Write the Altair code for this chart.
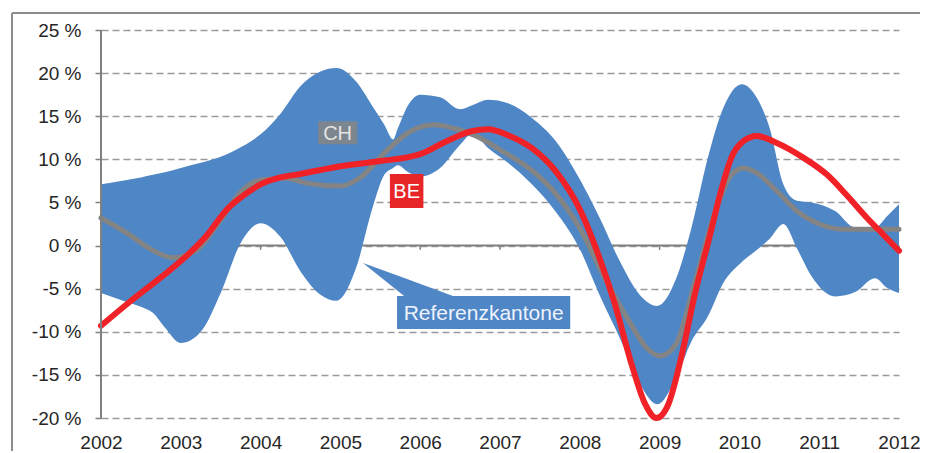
import altair as alt
import pandas as pd

FONT = "Liberation Sans"

# ---- data ----
band_year = [2002.0, 2002.25, 2002.5, 2002.65, 2002.8, 2003.0, 2003.25, 2003.5, 2003.75, 2004.0,
             2004.25, 2004.5, 2004.75, 2004.95, 2005.2, 2005.4, 2005.55, 2005.66, 2005.72, 2005.85,
             2006.0, 2006.25, 2006.5, 2006.66, 2006.85, 2007.1, 2007.4, 2007.7, 2008.0, 2008.25,
             2008.5, 2008.75, 2008.97, 2009.2, 2009.4, 2009.6, 2009.8, 2010.03, 2010.22, 2010.38,
             2010.55, 2010.72, 2010.9, 2011.2, 2011.45, 2011.7, 2011.85, 2012.0]
band_upper = [7.1, 7.5, 7.9, 8.2, 8.5, 9.0, 9.6, 10.3, 11.4, 12.9,
              15.3, 18.5, 20.2, 20.6, 19.0, 16.2, 14.0, 12.3, 13.6, 16.3,
              17.5, 17.2, 15.8, 16.3, 16.9, 16.5, 14.8, 12.1, 7.7, 3.2,
              -1.8, -5.7, -7.0, -4.0, 2.1, 10.0, 16.0, 18.7, 17.1, 13.6,
              7.1, 5.2, 5.0, 4.0, 2.1, 2.1, 3.4, 4.8]
band_lower = [-5.5, -6.3, -7.1, -7.8, -9.5, -11.3, -10.0, -5.5, 0.3, 2.6,
              1.0, -3.0, -5.7, -6.4, -2.5, 4.3, 8.2, 9.0, 9.3, 8.5,
              8.0, 9.0, 11.7, 13.0, 11.3, 9.6, 7.1, 3.9, -0.4, -5.8,
              -10.7, -16.0, -18.4, -15.5, -11.1, -8.3, -4.3, -1.9, -0.5, 0.8,
              2.5, -0.3, -3.5, -5.9, -5.4, -3.8, -4.9, -5.5]

be_year = [2002.0, 2002.35, 2002.75, 2003.0, 2003.3, 2003.6, 2003.8, 2004.0, 2004.25, 2004.5,
           2005.0, 2005.5, 2006.0, 2006.33, 2006.66, 2006.85, 2007.1, 2007.4, 2007.7, 2008.0,
           2008.23, 2008.44, 2008.65, 2008.82, 2008.96, 2009.11, 2009.28, 2009.44, 2009.62, 2009.78,
           2009.9, 2010.05, 2010.22, 2010.47, 2010.8, 2011.1, 2011.34, 2011.6, 2011.8, 2012.0]
be_value = [-9.3, -6.6, -3.7, -1.8, 0.9, 4.4, 5.9, 7.1, 7.9, 8.3,
            9.2, 9.8, 10.6, 12.1, 13.3, 13.5, 12.8, 11.3, 8.6, 4.2,
            -1.0, -6.8, -13.8, -18.4, -20.0, -18.4, -12.6, -5.7, 0.8, 6.7,
            10.2, 12.1, 12.7, 11.9, 10.2, 8.2, 5.9, 3.2, 1.3, -0.6]

ch_year = [2002.0, 2002.35, 2002.6, 2002.9, 2003.2, 2003.5, 2003.75, 2004.0, 2004.3, 2004.6,
           2005.0, 2005.25, 2005.58, 2005.87, 2006.17, 2006.42, 2006.7, 2007.0, 2007.4, 2007.7,
           2008.0, 2008.3, 2008.6, 2008.85, 2009.0, 2009.2, 2009.45, 2009.7, 2009.9, 2010.05,
           2010.22, 2010.47, 2010.72, 2011.0, 2011.3, 2011.64, 2012.0]
ch_value = [3.2, 1.3, -0.3, -1.4, -0.5, 3.0, 6.2, 7.6, 7.8, 7.2,
            6.9, 7.9, 11.0, 13.2, 14.0, 13.6, 12.7, 11.1, 8.7, 6.0,
            2.0, -3.5, -8.5, -12.0, -12.8, -11.5, -4.0, 4.0, 8.2, 9.0,
            8.4, 6.3, 4.0, 2.5, 1.9, 1.9, 1.9]

year_ticks = list(range(2002, 2013))
pct_ticks = list(range(-20, 26, 5))

# annotation boxes (data units): label, x1, x2, y1, y2, box colour, text colour, font size
ann_label = ["CH", "BE", "Referenzkantone"]
ann_x1 = [2004.72, 2005.62, 2005.71]
ann_x2 = [2005.21, 2006.04, 2007.88]
ann_y1 = [11.76, 4.35, -9.68]
ann_y2 = [14.43, 8.29, -5.85]
ann_fill = ["#7d858e", "#e8262a", "#4f86c6"]
ann_text = ["#e4e4e4", "#ffffff", "#eef3ff"]
ann_size = [20, 20, 21]

# callout tail of "Referenzkantone"
tail_x = [2005.283, 2005.81, 2006.436]
tail_top = [-2.03, -3.78, -5.95]
tail_bot = [-2.03, -5.95, -5.95]

W, H = 798, 388

xs = alt.Scale(domain=[2002, 2012], nice=False, zero=False)
ys = alt.Scale(domain=[-20, 25], nice=False, zero=False)

x_axis = alt.Axis(values=year_ticks, format="d", grid=False, domain=False, ticks=False,
                  tickSize=0, labelPadding=15, labelFontSize=19, labelColor="#262626",
                  labelFont=FONT, title=None, labelFlush=False)
y_axis = alt.Axis(values=pct_ticks, labelExpr="datum.value + ' %'", grid=True,
                  gridColor="#9a9a9a", gridDash=[7, 4], gridWidth=1.5, domain=False,
                  ticks=True, tickSize=6, tickColor="#808080", tickWidth=1.5,
                  labelPadding=14, labelFontSize=19, labelColor="#262626", labelFont=FONT,
                  title=None)

band_df = pd.DataFrame({"year": band_year, "upper": band_upper, "lower": band_lower})
be_df = pd.DataFrame({"year": be_year, "value": be_value})
ch_df = pd.DataFrame({"year": ch_year, "value": ch_value})
tick_df = pd.DataFrame({"year": year_ticks})
tail_df = pd.DataFrame({"year": tail_x, "top": tail_top, "bot": tail_bot})

one = pd.DataFrame({"a": [0]})
frame_top = alt.Chart(one).mark_rule(color="#8c8c8c", strokeWidth=2).encode(
    x=alt.value(-89), x2=alt.value(W + 21), y=alt.value(-17))
frame_left = alt.Chart(one).mark_rule(color="#8c8c8c", strokeWidth=2).encode(
    x=alt.value(-89), y=alt.value(-17), y2=alt.value(H + 60))

band = alt.Chart(band_df).mark_area(interpolate="monotone", color="#4f86c6", opacity=1).encode(
    x=alt.X("year:Q", scale=xs, axis=x_axis),
    y=alt.Y("upper:Q", scale=ys, axis=y_axis),
    y2="lower:Q",
)

zero_line = alt.Chart(one).mark_rule(color="#808080", strokeWidth=2).encode(
    x=alt.datum(2002, scale=xs), x2=alt.datum(2012), y=alt.datum(0, scale=ys)
)
zero_ticks = alt.Chart(tick_df).mark_rule(color="#808080", strokeWidth=1.5).encode(
    x=alt.X("year:Q", scale=xs, axis=x_axis),
    y=alt.datum(0, scale=ys), y2=alt.datum(-0.5),
)

ch_line = alt.Chart(ch_df).mark_line(interpolate="monotone", color="#848484", strokeWidth=5,
                                     strokeCap="round").encode(
    x=alt.X("year:Q", scale=xs, axis=x_axis),
    y=alt.Y("value:Q", scale=ys, axis=y_axis),
)
be_line = alt.Chart(be_df).mark_line(interpolate="monotone", color="#f02228", strokeWidth=6,
                                     strokeCap="round").encode(
    x=alt.X("year:Q", scale=xs, axis=x_axis),
    y=alt.Y("value:Q", scale=ys, axis=y_axis),
)

y_line = alt.Chart(one).mark_rule(color="#808080", strokeWidth=2).encode(
    x=alt.datum(2002, scale=xs), y=alt.datum(-20, scale=ys), y2=alt.datum(25)
)

tail = alt.Chart(tail_df).mark_area(color="#4f86c6", opacity=1).encode(
    x=alt.X("year:Q", scale=xs, axis=x_axis),
    y=alt.Y("top:Q", scale=ys, axis=y_axis),
    y2="bot:Q",
)

ann_layers = []
for i, lab in enumerate(ann_label):
    d = pd.DataFrame({"x1": [ann_x1[i]], "x2": [ann_x2[i]], "y1": [ann_y1[i]], "y2": [ann_y2[i]],
                      "xc": [(ann_x1[i] + ann_x2[i]) / 2], "yc": [(ann_y1[i] + ann_y2[i]) / 2],
                      "label": [lab]})
    box = alt.Chart(d).mark_rect(color=ann_fill[i], opacity=1).encode(
        x=alt.X("x1:Q", scale=xs, axis=x_axis), x2="x2:Q",
        y=alt.Y("y1:Q", scale=ys, axis=y_axis), y2="y2:Q",
    )
    txt = alt.Chart(d).mark_text(color=ann_text[i], font=FONT, fontSize=ann_size[i],
                                 align="center", baseline="middle", dy=1).encode(
        x=alt.X("xc:Q", scale=xs, axis=x_axis),
        y=alt.Y("yc:Q", scale=ys, axis=y_axis),
        text="label:N",
    )
    ann_layers += [box, txt]

chart = alt.layer(
    frame_top, frame_left, zero_line, zero_ticks, band, ch_line, be_line, y_line, tail,
    *ann_layers
).properties(
    width=W, height=H,
    autosize=alt.AutoSizeParams(type="none"),
    padding={"left": 93, "top": 22, "right": 21, "bottom": 33},
    background="white",
).configure_view(stroke=None)

chart.save("out.html", embed_options={"renderer": "svg", "actions": False})
